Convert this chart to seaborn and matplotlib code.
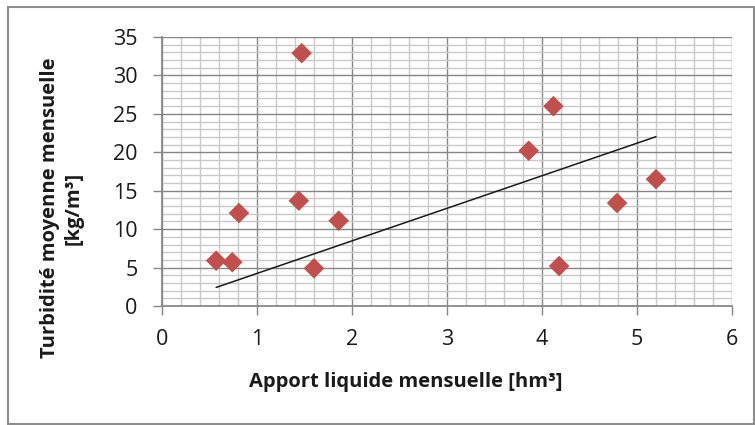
import numpy as np
import pandas as pd
import matplotlib
matplotlib.use("Agg")
import matplotlib.pyplot as plt
import seaborn as sns
from matplotlib.ticker import MultipleLocator
from matplotlib.patches import Rectangle

# Monthly inflow volume [hm3] and mean monthly turbidity [kg/m3]
apport = [0.57, 0.74, 0.81, 1.44, 1.47, 1.60, 1.86, 3.86, 4.12, 4.18, 4.79, 5.20]
turbidite = [5.9, 5.7, 12.1, 13.7, 32.9, 4.9, 11.1, 20.2, 26.0, 5.2, 13.4, 16.5]

x_ticks = [0, 1, 2, 3, 4, 5, 6]
y_ticks = [0, 5, 10, 15, 20, 25, 30, 35]

sns.set_theme(style="white")
plt.rcParams["font.family"] = ["Open Sans", "DejaVu Sans"]

df = pd.DataFrame({"apport": apport, "turbidite": turbidite})

# Linear trend forced through the origin
xa = np.asarray(apport)
ya = np.asarray(turbidite)
slope = np.sum(xa * ya) / np.sum(xa * xa)
trend = pd.DataFrame({"apport": [xa.min(), xa.max()]})
trend["turbidite"] = slope * trend["apport"]

fig = plt.figure(figsize=(7.55, 4.25), dpi=100)
ax = fig.add_axes([162 / 755, 1 - 306 / 425, 570 / 755, 269 / 425])

major_c = "#868686"
minor_c = "#c9c9c9"
text_c = "#1a1a1a"

ax.set_xlim(0, 6)
ax.set_ylim(0, 35)
ax.set_xticks(x_ticks)
ax.set_yticks(y_ticks)
ax.xaxis.set_minor_locator(MultipleLocator(0.2))
ax.yaxis.set_minor_locator(MultipleLocator(1))
ax.grid(which="minor", color=minor_c, linewidth=1.0)
ax.grid(which="major", color=major_c, linewidth=1.0)
ax.set_axisbelow(True)
for s in ax.spines.values():
    s.set_visible(False)
ax.spines["left"].set_visible(True)
ax.spines["left"].set_color(major_c)
ax.spines["bottom"].set_visible(True)
ax.spines["bottom"].set_color(major_c)

ax.tick_params(which="major", length=6.5, width=1, color=major_c, direction="out",
               labelsize=15.5, labelcolor=text_c, pad=11,
               bottom=True, left=True)
ax.tick_params(axis="x", pad=10)
ax.tick_params(which="minor", length=0)

sns.lineplot(data=trend, x="apport", y="turbidite", ax=ax, color=text_c,
             linewidth=1.1, zorder=3)
sns.scatterplot(data=df, x="apport", y="turbidite", ax=ax, marker="D", s=110,
                color="#C0504D", edgecolor="none", zorder=4)

ax.set_xlabel("Apport liquide mensuelle [hm³]", fontsize=14.5, fontweight="bold",
              color=text_c, va="center")
ax.xaxis.set_label_coords((406 - 162) / 570, (306 - 382) / 269)
ax.set_ylabel("Turbidité moyenne mensuelle\n[kg/m³]", fontsize=14.5,
              fontweight="bold", color=text_c, va="center", linespacing=1.2)
ax.yaxis.set_label_coords((62 - 162) / 570, (306 - 208) / 269)

# Chart frame
fig.patches.append(Rectangle((8 / 755, 1 / 425), 746 / 755, 417 / 425,
                             transform=fig.transFigure, fill=False,
                             edgecolor="#8c8c8c", linewidth=1.5))

fig.savefig("out.png", dpi=100)
